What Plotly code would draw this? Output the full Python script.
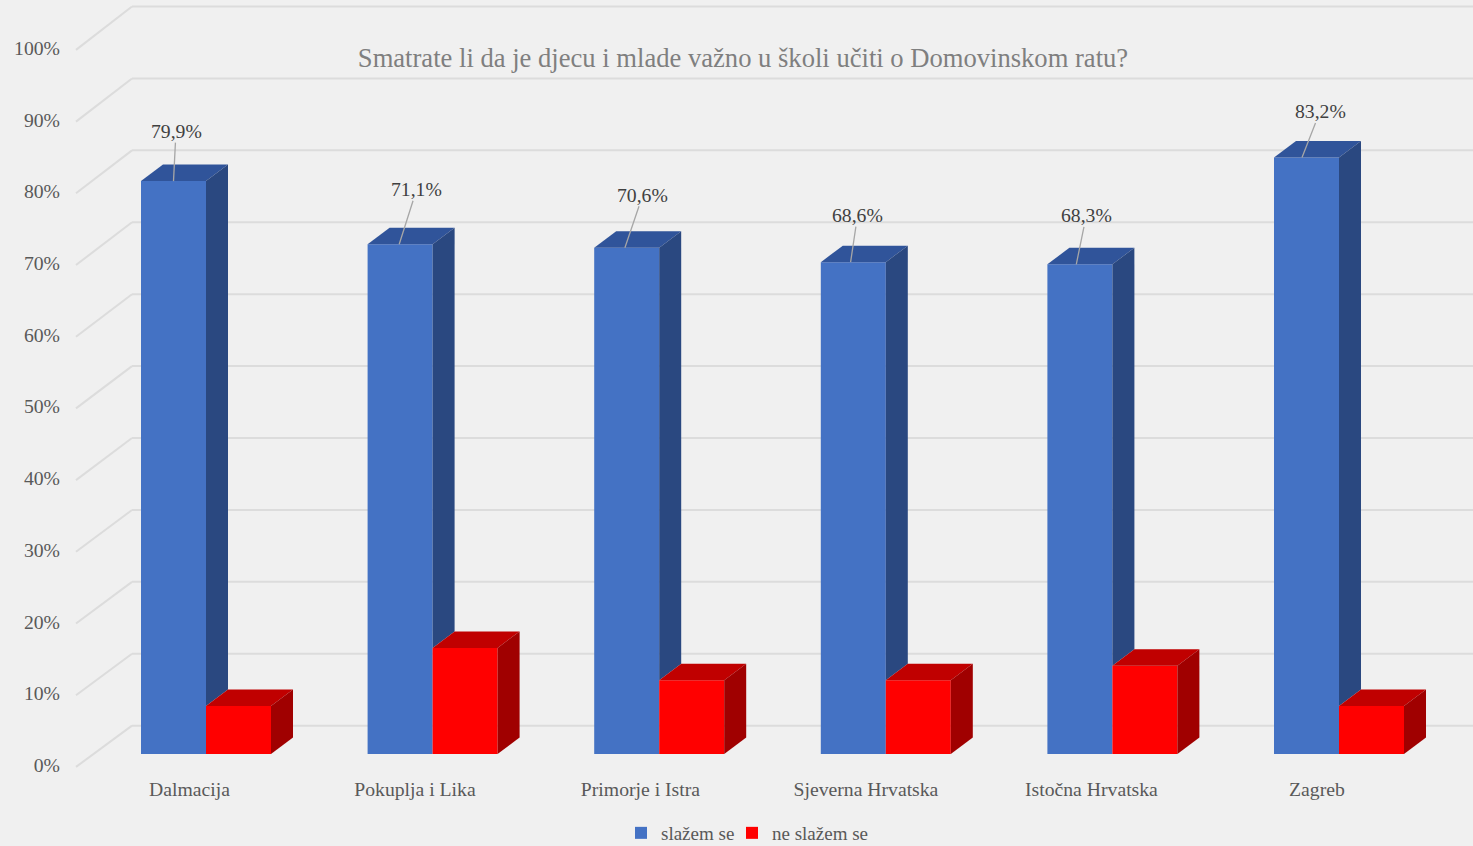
import plotly.graph_objects as go

title = "Smatrate li da je djecu i mlade važno u školi učiti o Domovinskom ratu?"
categories = ["Dalmacija", "Pokuplja i Lika", "Primorje i Istra", "Sjeverna Hrvatska", "Istočna Hrvatska", "Zagreb"]
agree = [79.9, 71.1, 70.6, 68.6, 68.3, 83.2]
disagree = [6.7, 14.8, 10.3, 10.3, 12.3, 6.7]
agree_labels = ["79,9%", "71,1%", "70,6%", "68,6%", "68,3%", "83,2%"]
axis_ticks = [0, 10, 20, 30, 40, 50, 60, 70, 80, 90, 100]
series_names = ["slažem se", "ne slažem se"]

W, H = 1473, 846
PX_X = 226.6            # pixels per category
PX_Y = 7.17             # pixels per percentage point
X0_PX, Y0_PX = 206, 754 # pixel of category 0 / value 0
BAR_W = 65 / PX_X
DX, DY = 22 / PX_X, 16.5 / PX_Y
WALL_X_BACK, WALL_X_FRONT = (132 - X0_PX) / PX_X, (76 - X0_PX) / PX_X
WALL_SCALE, WALL_BACK, WALL_FRONT = 1.003, 3.95, -1.8
BG = "#f0f0f0"
GRID = "#dcdcdc"
FONT = "Liberation Serif"
BLUE = ("#4472c4", "#2a4880", "#30549a")
RED = ("#ff0000", "#a00000", "#c00000")
LABEL_OFFSETS = [(2.5, -50), (17.5, -55), (18, -53), (7, -47), (10, -49), (18, -46)]
LEADER_DRIFT = -0.9 / PX_X
CAT_LABEL_SHIFT, CAT_LABEL_STEP = -0.073, 0.9951

fig = go.Figure()


def face(xs, ys, color):
    fig.add_trace(go.Scatter(x=xs, y=ys, mode="lines", fill="toself", fillcolor=color,
                             line=dict(width=0, color=color), showlegend=False, hoverinfo="skip"))


idx = list(range(len(categories)))
fig.add_trace(go.Bar(x=idx, y=agree, name=series_names[0], width=BAR_W, offset=-BAR_W,
                     marker=dict(color=BLUE[0], line_width=0), legend="legend"))
fig.add_trace(go.Bar(x=idx, y=disagree, name=series_names[1], width=BAR_W, offset=0,
                     marker=dict(color=RED[0], line_width=0), legend="legend2"))

for i, (a, d) in enumerate(zip(agree, disagree)):
    # blue top and the part of the blue side above the red box
    face([i - BAR_W, i, i + DX, i - BAR_W + DX, i - BAR_W], [a, a, a + DY, a + DY, a], BLUE[2])
    face([i, i + DX, i + DX, i, i], [d, d + DY, a + DY, a, d], BLUE[1])
    # red top and side
    face([i, i + BAR_W, i + BAR_W + DX, i + DX, i], [d, d, d + DY, d + DY, d], RED[2])
    face([i + BAR_W, i + BAR_W + DX, i + BAR_W + DX, i + BAR_W, i + BAR_W], [0, DY, d + DY, d, 0], RED[1])

x_right = (W - X0_PX) / PX_X
for t in axis_ticks:
    y_back = t * WALL_SCALE + WALL_BACK
    y_front = t + WALL_FRONT
    fig.add_shape(type="line", layer="below", xref="x", yref="y", x0=WALL_X_FRONT, y0=y_front,
                  x1=WALL_X_BACK, y1=y_back, line=dict(color=GRID, width=2))
    fig.add_shape(type="line", layer="below", xref="x", yref="y", x0=WALL_X_BACK, y0=y_back,
                  x1=x_right, y1=y_back, line=dict(color=GRID, width=2))

for i, (a, txt, off) in enumerate(zip(agree, agree_labels, LABEL_OFFSETS)):
    fig.add_annotation(x=i - BAR_W / 2 + i * LEADER_DRIFT, y=a, text=txt, showarrow=True, arrowhead=0,
                       arrowwidth=1.3, arrowcolor="#a6a6a6", ax=off[0], ay=off[1], borderpad=0,
                       font=dict(family=FONT, size=19.7, color="#404040"))


def legend_at(px):
    return dict(orientation="h", x=px / W, xanchor="left", y=1 - 833 / H, yanchor="middle",
                bgcolor="rgba(0,0,0,0)", font=dict(family=FONT, size=19, color="#595959"), itemwidth=30)


fig.update_layout(
    width=W, height=H, autosize=False,
    margin=dict(l=0, r=0, t=0, b=0, autoexpand=False),
    paper_bgcolor=BG, plot_bgcolor=BG,
    barmode="overlay",
    title=dict(text=title, x=743 / W, xanchor="center", y=1 - 58 / H, yanchor="middle",
               font=dict(family=FONT, size=26.6, color="#7f7f7f")),
    font=dict(family=FONT, color="#595959", size=19.7),
    legend=legend_at(621),
    legend2=legend_at(732),
    xaxis=dict(range=[-X0_PX / PX_X, x_right], showgrid=False, zeroline=False, showline=False, automargin=False,
               tickmode="array", tickvals=[i * CAT_LABEL_STEP + CAT_LABEL_SHIFT for i in idx], ticktext=categories,
               ticks="", anchor="free", position=(H - 775) / H, domain=[0, 1],
               tickfont=dict(family=FONT, size=19.7, color="#595959")),
    yaxis=dict(range=[-(H - Y0_PX) / PX_Y, Y0_PX / PX_Y], showgrid=False, zeroline=False, showline=False, automargin=False,
               tickmode="array", tickvals=[t - 1.54 for t in axis_ticks], ticktext=[f"{t}%" for t in axis_ticks],
               ticks="", anchor="free", position=60 / W, domain=[0, 1],
               tickfont=dict(family=FONT, size=19.7, color="#595959")),
)

fig.write_html("out.html", config=dict(displayModeBar=False), post_script="document.body.style.margin='0';")
